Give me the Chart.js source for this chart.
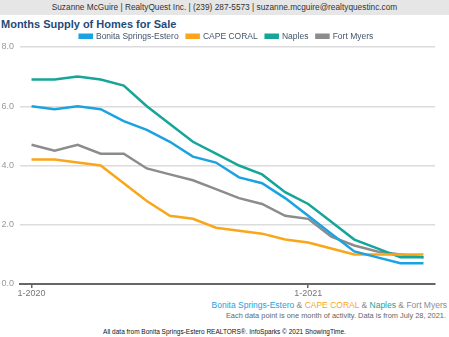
<!DOCTYPE html>
<html lang="en">
<head>
  <meta charset="UTF-8" />
  <script src="https://cdn.jsdelivr.net/npm/chart.js"></script>
  <title>Months Supply of Homes for Sale</title>
  <style>
    body { margin: 0; width: 449px; height: 337px; background: #fff; font-family: "Liberation Sans", Arial, sans-serif; position: relative; overflow: hidden; }
    #banner { position: absolute; left: 0; top: 0; width: 449px; height: 15px; background: #e6e6e6; color: #333; font-size: 8.3px; line-height: 15px; text-align: center; }
    #titulo { position: absolute; left: 1px; top: 18px; font-size: 11px; font-weight: bold; color: #1f4b7a; }
    #wrap { position: absolute; left: 0; top: 24px; width: 449px; height: 276px; }
    #series { position: absolute; right: 2px; top: 300px; font-size: 8.5px; color: #8c8c8c; }
    #nota { position: absolute; right: 3px; top: 311px; font-size: 7.4px; color: #666; }
    #fuente { position: absolute; left: 0; width: 449px; top: 328px; font-size: 6.5px; color: #111; text-align: center; }
  </style>
</head>
<body>
  <div id="banner">Suzanne McGuire | RealtyQuest Inc. | (239) 287-5573 | suzanne.mcguire@realtyquestinc.com</div>
  <div id="titulo">Months Supply of Homes for Sale</div>
  <div id="wrap"><canvas id="grafico"></canvas></div>
  <div id="series"><span style="color:#1aa3e0">Bonita Springs-Estero</span> &amp; <span style="color:#f9a61a">CAPE CORAL</span> &amp; <span style="color:#16a599">Naples</span> &amp; Fort Myers</div>
  <div id="nota">Each data point is one month of activity. Data is from July 28, 2021.</div>
  <div id="fuente">All data from Bonita Springs-Estero REALTORS®. InfoSparks © 2021 ShowingTime.</div>
  <script>
    // meses ene-2020 .. jun-2021
    const meses = [
      '1-2020', '2-2020', '3-2020', '4-2020', '5-2020', '6-2020',
      '7-2020', '8-2020', '9-2020', '10-2020', '11-2020', '12-2020',
      '1-2021', '2-2021', '3-2021', '4-2021', '5-2021', '6-2021'
    ];
    const bonita = [6.0, 5.9, 6.0, 5.9, 5.5, 5.2, 4.8, 4.3, 4.1, 3.6, 3.4, 2.9, 2.3, 1.7, 1.1, 0.9, 0.7, 0.7];
    const capeCoral = [4.2, 4.2, 4.1, 4.0, 3.4, 2.8, 2.3, 2.2, 1.9, 1.8, 1.7, 1.5, 1.4, 1.2, 1.0, 1.0, 1.0, 1.0];
    const naples = [6.9, 6.9, 7.0, 6.9, 6.7, 6.0, 5.4, 4.8, 4.4, 4.0, 3.7, 3.1, 2.7, 2.1, 1.5, 1.2, 0.9, 0.9];
    const fortMyers = [4.7, 4.5, 4.7, 4.4, 4.4, 3.9, 3.7, 3.5, 3.2, 2.9, 2.7, 2.3, 2.2, 1.6, 1.3, 1.1, 1.0, 0.9];
    const yTicks = [0, 2, 4, 6, 8];

    const esEnero = i => meses[i].startsWith('1-');

    function serie(label, data, color) {
      return {
        label: label,
        data: data,
        borderColor: color,
        backgroundColor: color,
        borderWidth: 2.5,
        pointRadius: 0,
        tension: 0
      };
    }

    // leyenda mas baja que la de Chart.js y centrada sobre el area del grafico
    const leyendaCorta = {
      id: 'leyendaCorta',
      beforeInit(chart) {
        const legend = chart.legend;
        if (!legend) return;
        const fitOrig = legend.fit;
        legend.fit = function () {
          fitOrig.call(this);
          this.height = 23;
        };
      },
      afterLayout(chart) {
        if (chart.legend) chart.legend.left += 18;
      }
    };

    const ctx = document.getElementById('grafico').getContext('2d');
    new Chart(ctx, {
      type: 'line',
      data: {
        labels: meses,
        datasets: [
          serie('Bonita Springs-Estero', bonita, '#1aa3e0'),
          serie('CAPE CORAL', capeCoral, '#f9a61a'),
          serie('Naples', naples, '#16a599'),
          serie('Fort Myers', fortMyers, '#8c8c8c')
        ]
      },
      plugins: [leyendaCorta],
      options: {
        responsive: true,
        maintainAspectRatio: false,
        animation: false,
        layout: { padding: { top: 0, right: 14, bottom: 0, left: 0 } },
        plugins: {
          tooltip: { enabled: false },
          legend: {
            position: 'top',
            labels: {
              boxWidth: 12,
              boxHeight: 3,
              padding: 8,
              color: '#44546a',
              font: { family: 'Liberation Sans', size: 8.5 }
            }
          }
        },
        scales: {
          x: {
            offset: true,
            afterFit: s => { s.height = 16; },
            border: { color: '#666', width: 2 },
            grid: {
              drawOnChartArea: false,
              tickLength: 4,
              color: c => esEnero(c.index) ? '#666' : 'rgba(0,0,0,0)',
              lineWidth: 1.5
            },
            ticks: {
              autoSkip: false,
              maxRotation: 0,
              padding: 0,
              color: '#777',
              font: { family: 'Liberation Sans', size: 9 },
              callback: (v, i) => esEnero(i) ? meses[i] : ''
            }
          },
          y: {
            min: 0,
            max: 8,
            afterFit: s => { s.width = 20; },
            afterBuildTicks: s => { s.ticks = yTicks.map(v => ({ value: v })); },
            border: { display: false },
            grid: { color: '#dcdcdc', lineWidth: 1.5, drawTicks: false },
            ticks: {
              padding: 6,
              color: '#999',
              font: { family: 'Liberation Sans', size: 9 },
              callback: v => v.toFixed(1)
            }
          }
        }
      }
    });
  </script>
</body>
</html>
